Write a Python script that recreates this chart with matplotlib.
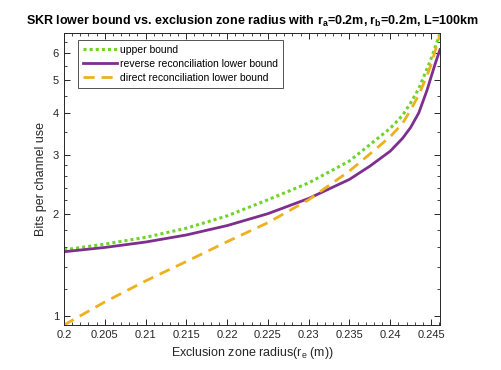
import matplotlib
matplotlib.use("Agg")
import matplotlib.pyplot as plt
import numpy as np

plt.rcParams['font.family'] = ['Liberation Sans', 'DejaVu Sans']
plt.rcParams['mathtext.fontset'] = 'custom'
plt.rcParams['mathtext.rm'] = 'Liberation Sans'
plt.rcParams['mathtext.it'] = 'Liberation Sans'
plt.rcParams['mathtext.bf'] = 'Liberation Sans:bold'
plt.rcParams['mathtext.default'] = 'regular'

# exclusion zone radius (m)
radius = [0.200, 0.205, 0.210, 0.215, 0.220, 0.225, 0.230, 0.235, 0.2375,
          0.240, 0.2415, 0.2425, 0.2435, 0.2445, 0.245, 0.2455, 0.2461]
# bits per channel use
upper_bound = [1.57, 1.633, 1.71, 1.82, 1.98, 2.21, 2.48, 2.88, 3.22,
               3.60, 3.93, 4.28, 4.72, 5.40, 5.78, 6.25, 6.90]
reverse_lb = [1.55, 1.596, 1.656, 1.738, 1.853, 2.01, 2.23, 2.54, 2.78,
              3.08, 3.36, 3.62, 4.00, 4.66, 5.10, 5.58, 6.16]
direct_lb = [0.94, 1.10, 1.27, 1.45, 1.66, 1.89, 2.21, 2.69, 3.02,
             3.40, 3.72, 4.08, 4.52, 5.15, 5.55, 6.10, 6.82]

x_ticks = [0.2, 0.205, 0.21, 0.215, 0.22, 0.225, 0.23, 0.235, 0.24, 0.245]
y_ticks = [1, 2, 3, 4, 5, 6]

fig = plt.figure(figsize=(5.01, 3.70), dpi=100)
ax = fig.add_axes([0.1277, 0.1216, 0.7505, 0.7892])

ax.plot(radius, upper_bound, color='#6fd42a', linestyle=(0, (1, 1)), lw=2.2,
        label='upper bound')
ax.plot(radius, reverse_lb, color='#7e2f8e', linestyle='-', lw=2.0,
        label='reverse reconciliation lower bound')
ax.plot(radius, direct_lb, color='#edb120', linestyle=(0, (4, 2.5)), lw=2.0,
        label='direct reconciliation lower bound')

ax.set_yscale('log')
ax.set_xlim(0.2, 0.2461)
ax.set_ylim(min(direct_lb), max(upper_bound))

ax.set_xticks(x_ticks)
ax.set_xticklabels(['{:g}'.format(t) for t in x_ticks])
ax.set_xticks(np.arange(0.2, 0.2461, 0.001), minor=True)
ax.set_yticks(y_ticks)
ax.set_yticklabels([str(t) for t in y_ticks])
ax.set_yticks(list(np.arange(1.2, 3.0, 0.2)) + list(np.arange(3.5, 7.0, 0.5)),
              minor=True)
ax.yaxis.set_minor_formatter(matplotlib.ticker.NullFormatter())

ax.tick_params(which='both', direction='in', top=True, right=True,
               labelsize=8, colors='#262626')
ax.tick_params(which='major', length=4, width=0.7)
ax.tick_params(which='minor', length=2, width=0.6)
for s in ax.spines.values():
    s.set_color('#262626')
    s.set_linewidth(0.7)

ax.set_xlabel('Exclusion zone radius(r$_e$ (m))', fontsize=9, color='#262626')
ax.set_ylabel('Bits per channel use', fontsize=9, color='#262626')
ax.set_title(r'SKR lower bound vs. exclusion zone radius with r$_{\mathbf{a}}$=0.2m, '
             r'r$_{\mathbf{b}}$=0.2m, L=100km', fontsize=9, fontweight='bold')

leg = ax.legend(loc='upper left', bbox_to_anchor=(0.037, 0.976), fontsize=7.5,
                fancybox=False, edgecolor='#262626', handlelength=3.3,
                borderaxespad=0, borderpad=0.45, labelspacing=0.4,
                handletextpad=0.3)
leg.get_frame().set_linewidth(0.7)

fig.savefig('out.png', dpi=100)
